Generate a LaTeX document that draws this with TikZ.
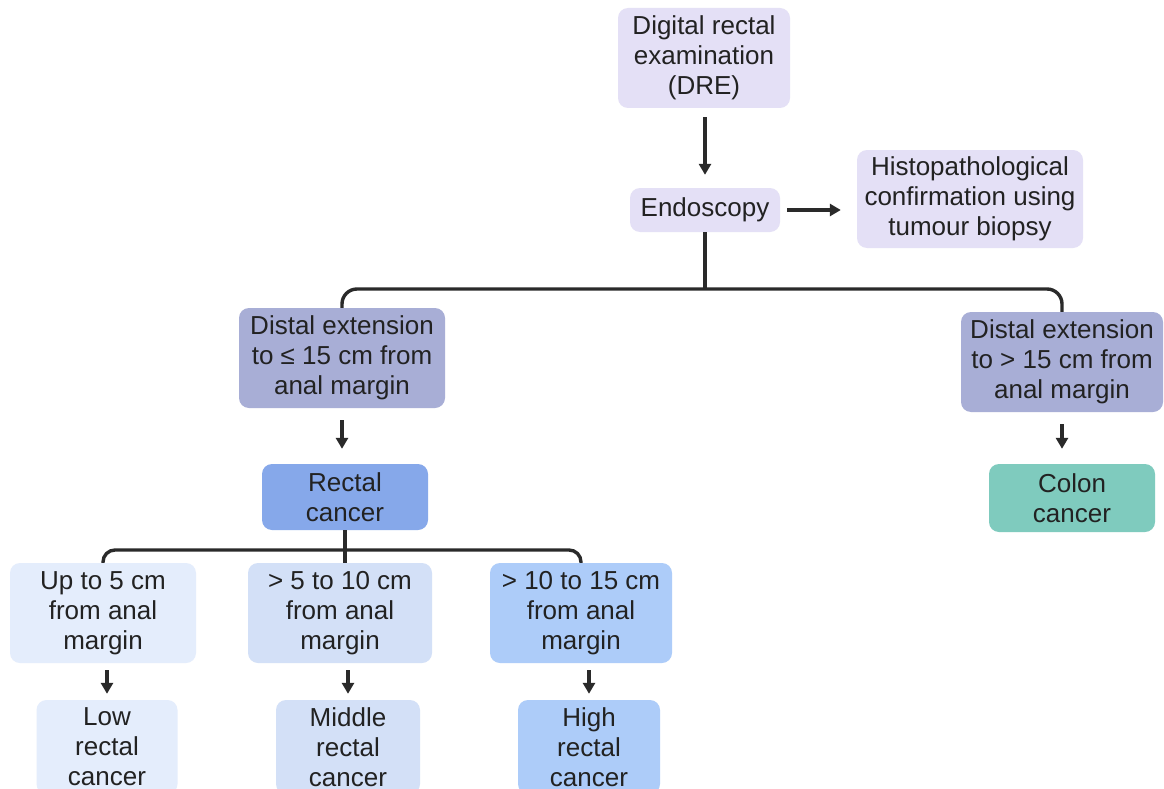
\documentclass[tikz,border=0pt]{standalone}
\usepackage{fontspec}
\setmainfont{Liberation Sans}
\usetikzlibrary{arrows.meta,calc}
\definecolor{lav}{HTML}{E4E0F6}
\definecolor{dist}{HTML}{A8AED6}
\definecolor{rect}{HTML}{86A8EA}
\definecolor{colon}{HTML}{7FCBBE}
\definecolor{cA}{HTML}{E4EDFC}
\definecolor{cB}{HTML}{D3E0F7}
\definecolor{cC}{HTML}{ADCCF9}
\definecolor{txt}{HTML}{222222}
\definecolor{ln}{HTML}{2A2A2A}
\begin{document}
\begin{tikzpicture}[x=1pt,y=-1pt,
  box/.style={rounded corners=10pt, align=center, inner sep=0pt, font=\fontsize{26}{30}\selectfont, text=txt},
  conn/.style={line width=3.4pt, draw=ln},
  arr/.style={conn, -{Triangle[length=11pt,width=12pt]}}]
\useasboundingbox[fill=white] (0,0) rectangle (1164,789);

\node[box, fill=lav, minimum width=172pt, minimum height=100pt] (dre) at (704,58) {Digital rectal\\examination\\(DRE)};
\node[box, fill=lav, minimum width=150pt, minimum height=44pt] (endo) at (705,210) {Endoscopy};
\node[box, fill=lav, minimum width=226pt, minimum height=98pt] (histo) at (970,199) {Histopathological\\confirmation using\\tumour biopsy};
\node[box, fill=dist, minimum width=206pt, minimum height=100pt] (dl) at (342,358) {Distal extension\\to ≤ 15 cm from\\anal margin};
\node[box, fill=dist, minimum width=202pt, minimum height=100pt] (dr) at (1062,362) {Distal extension\\to > 15 cm from\\anal margin};
\node[box, fill=rect, minimum width=166pt, minimum height=66pt] (rc) at (345,497) {Rectal\\cancer};
\node[box, fill=colon, minimum width=166pt, minimum height=68pt] (cc) at (1072,498) {Colon\\cancer};
\node[box, fill=cA, minimum width=186pt, minimum height=100pt] (b1) at (103,613) {Up to 5 cm\\from anal\\margin};
\node[box, fill=cB, minimum width=184pt, minimum height=100pt] (b2) at (340,613) {> 5 to 10 cm\\from anal\\margin};
\node[box, fill=cC, minimum width=182pt, minimum height=100pt] (b3) at (581,613) {> 10 to 15 cm\\from anal\\margin};
\node[box, fill=cA, minimum width=141pt, minimum height=94pt] (low) at (107,747) {Low\\rectal\\cancer};
\node[box, fill=cB, minimum width=144pt, minimum height=94pt] (mid) at (348,747) {Middle\\rectal\\cancer};
\node[box, fill=cC, minimum width=142pt, minimum height=94pt] (high) at (589,747) {High\\rectal\\cancer};

\draw[arr, shorten <=9pt, shorten >=13pt] (endo.north |- dre.south) -- (endo.north);
\draw[arr, shorten <=7pt, shorten >=16pt] (endo.east) -- (endo.east -| histo.west);

\coordinate (j1) at (705,289);
\draw[conn, rounded corners=15pt] (dl.north) |- (j1) -| (dr.north);
\draw[conn] (endo.south) -- (j1);

\draw[arr, shorten <=12pt, shorten >=15pt] (dl.south) -- (dl.south |- rc.north);
\draw[arr, shorten <=12pt, shorten >=15pt] (dr.south) -- (dr.south |- cc.north);

\coordinate (j2) at (345,550);
\draw[conn, rounded corners=12pt] (b1.north) |- (j2) -| (b3.north);
\draw[conn] (rc.south) -- (rc.south |- b2.north);

\draw[arr, shorten <=7pt, shorten >=6pt] (low.north |- b1.south) -- (low.north);
\draw[arr, shorten <=7pt, shorten >=6pt] (mid.north |- b2.south) -- (mid.north);
\draw[arr, shorten <=7pt, shorten >=6pt] (high.north |- b3.south) -- (high.north);
\end{tikzpicture}
\end{document}
